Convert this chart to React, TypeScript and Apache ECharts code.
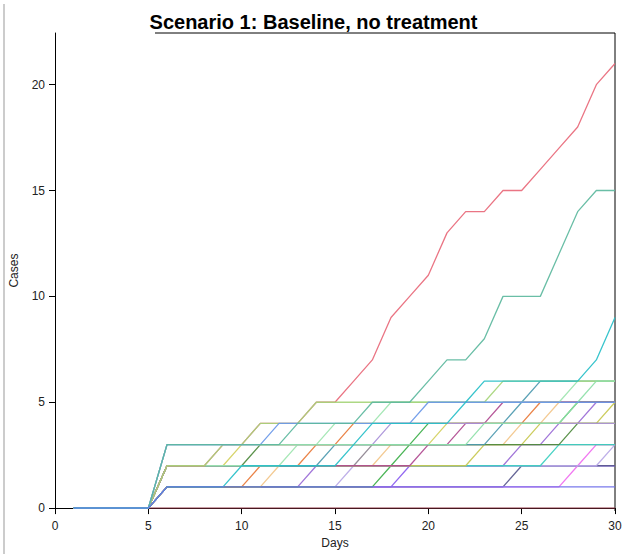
import React, { useEffect, useRef } from "react";
import * as echarts from "echarts";

const days = Array.from({ length: 30 }, (_, i) => i + 1);

const runDarkRed = [0,0,0,0,0,0,0,0,0,0,0,0,0,0,0,0,0,0,0,0,0,0,0,0,0,0,0,0,0,0];
const runViolet = [0,0,0,0,0,1,1,1,1,1,1,1,1,1,1,1,1,1,2,2,2,2,2,2,2,2,2,2,2,2];
const runSlate = [0,0,0,0,0,1,1,1,1,1,1,1,1,1,1,1,1,1,1,1,1,1,1,1,2,2,2,2,2,2];
const runPink = [0,0,0,0,0,1,1,1,1,1,1,1,1,1,1,1,1,1,1,1,1,1,1,1,1,1,1,2,3,3];
const runLavender = [0,0,0,0,0,1,1,1,1,1,1,1,1,1,1,2,2,2,2,2,2,2,2,2,2,2,2,2,2,3];
const runPurple = [0,0,0,0,0,1,1,1,1,1,1,1,1,2,2,2,2,2,2,2,2,2,2,2,3,3,4,4,5,5];
const runPeach = [0,0,0,0,0,1,1,1,1,1,1,2,2,2,2,2,2,3,3,3,3,3,3,3,4,4,5,5,5,5];
const runOrange = [0,0,0,0,0,1,1,1,1,1,2,2,2,3,3,4,4,4,4,4,4,4,4,4,4,5,5,5,5,5];
const runGreen = [0,0,0,0,0,1,1,1,1,1,1,1,1,1,1,1,1,2,3,4,4,4,4,4,4,4,4,5,5,5];
const runGray = [0,0,0,0,0,2,2,2,2,2,2,2,2,2,2,2,3,3,3,3,3,3,3,3,3,3,3,3,3,3];
const runCyan2 = [0,0,0,0,0,2,2,2,2,2,2,2,2,2,2,2,2,2,2,2,2,2,2,2,2,2,3,3,3,3];
const runOliveYellow = [0,0,0,0,0,2,2,2,2,2,2,2,2,2,2,2,2,2,2,2,2,2,3,3,3,4,4,4,4,5];
const runDarkGreen = [0,0,0,0,0,2,2,2,2,2,3,3,3,3,3,3,3,3,3,3,3,3,3,3,3,3,3,4,4,4];
const runKhaki = [0,0,0,0,0,2,2,2,2,3,3,3,3,3,3,3,3,3,3,3,4,4,4,4,4,4,4,4,4,4];
const runMagenta = [0,0,0,0,0,2,2,2,2,2,2,2,2,2,2,2,2,2,2,3,3,4,4,5,5,5,5,5,5,5];
const runSteelTeal = [0,0,0,0,0,2,2,2,2,2,2,2,2,2,3,3,3,3,3,3,3,3,3,4,5,6,6,6,6,6];
const runPaleGreen = [0,0,0,0,0,2,2,2,2,2,2,2,3,3,4,4,4,5,5,5,5,5,5,5,5,5,5,6,6,6];
const runRed = [0,0,0,0,0,2,2,2,3,3,4,4,4,5,5,6,7,9,10,11,13,14,14,15,15,16,17,18,20,21];
const runLightGreen = [0,0,0,0,0,2,2,2,3,3,4,4,4,5,5,5,5,5,5,5,5,5,5,6,6,6,6,6,6,6];
const runLavender2 = [0,0,0,0,0,3,3,3,3,3,3,3,3,3,3,3,3,4,4,4,4,4,4,4,4,4,4,4,4,4];
const runMint = [0,0,0,0,0,3,3,3,3,3,3,3,3,3,3,3,3,3,3,3,3,3,4,4,4,4,4,5,6,6];
const runBlue = [0,0,0,0,0,3,3,3,3,3,3,4,4,4,4,4,4,4,4,5,5,5,5,5,5,5,5,5,5,5];
const runTealGreen = [0,0,0,0,0,3,3,3,3,3,3,3,4,4,4,4,5,5,5,6,7,7,8,10,10,10,12,14,15,15];
const runCyan = [0,0,0,0,0,1,1,1,1,2,2,2,2,2,2,3,4,4,4,4,4,5,6,6,6,6,6,6,7,9];
const runBlue1 = [0,0,0,0,0,1,1,1,1,1,1,1,1,1,1,1,1,1,1,1,1,1,1,1,1,1,1,1,1,1];

const runs = [
  runDarkRed, runViolet, runSlate, runPink, runLavender, runPurple, runPeach,
  runOrange, runGreen, runGray, runCyan2, runOliveYellow, runDarkGreen, runKhaki,
  runMagenta, runSteelTeal, runPaleGreen, runRed, runLightGreen, runLavender2,
  runMint, runBlue, runTealGreen, runCyan, runBlue1,
];

const runColors = [
  "#8B2E3E", "#8A5CF0", "#5A5A8E", "#F06EF0", "#B9A8E6", "#9A6BD6", "#F2C58A",
  "#E8793A", "#3DAF4A", "#8E8490", "#3CCFC0", "#C8C850", "#4E8A3E", "#D4D060",
  "#B04A90", "#4E9AB0", "#9EE5B0", "#E8697A", "#A6D57A", "#A890D8",
  "#8EE0A8", "#6A98E8", "#5DB89E", "#27BFC8", "#6E6EEA",
];

const yTicks = [0, 5, 10, 15, 20];
const xTicks = [0, 5, 10, 15, 20, 25, 30];

export default function App() {
  const ref = useRef<HTMLDivElement>(null);
  useEffect(() => {
    if (!ref.current) return;
    const chart = echarts.init(ref.current, null, { renderer: "svg" });
    const font = "Liberation Sans, Arial, Helvetica, sans-serif";
    chart.setOption({
      animation: false,
      textStyle: { fontFamily: font },
      title: {
        text: "Scenario 1: Baseline, no treatment",
        left: "center",
        top: 7,
        textStyle: { fontSize: 20, fontWeight: "bold", color: "#000", fontFamily: font },
      },
      grid: { left: 55, right: 12, top: 33, bottom: 43, containLabel: false },
      xAxis: {
        type: "value",
        min: 0,
        max: 30,
        interval: 5,
        name: "Days",
        nameLocation: "middle",
        nameGap: 23,
        nameTextStyle: { fontSize: 12, color: "#222", fontFamily: font },
        splitLine: { show: false },
        axisLine: { show: true, onZero: false, lineStyle: { color: "#000", width: 1 } },
        axisTick: { show: true, length: 6, lineStyle: { color: "#000" }, customValues: xTicks },
        axisLabel: { fontSize: 12, color: "#222", margin: 12, customValues: xTicks },
      },
      yAxis: {
        type: "value",
        min: 0,
        max: 22.44,
        interval: 5,
        name: "Cases",
        nameLocation: "middle",
        nameGap: 35,
        nameTextStyle: { fontSize: 12, color: "#222", fontFamily: font },
        splitLine: { show: false },
        axisLine: { show: true, onZero: false, lineStyle: { color: "#000", width: 1 } },
        axisTick: { show: true, length: 6, lineStyle: { color: "#000" }, customValues: yTicks },
        axisLabel: {
          fontSize: 12,
          color: "#222",
          margin: 10,
          customValues: yTicks,
        },
      },
      graphic: [
        { type: "line", shape: { x1: 155, y1: 33, x2: 615, y2: 33 }, style: { stroke: "#000", lineWidth: 1 } },
        { type: "line", shape: { x1: 615, y1: 33, x2: 615, y2: 511 }, style: { stroke: "#000", lineWidth: 1 } },
        { type: "line", shape: { x1: 4, y1: 4, x2: 4, y2: 554 }, style: { stroke: "#aaa", lineWidth: 1.2 } },
      ],
      series: runs.map((r, i) => ({
        type: "line",
        data: days.map((d, j) => [d, r[j]]),
        showSymbol: false,
        symbol: "none",
        silent: true,
        lineStyle: { color: runColors[i], width: 1.3, opacity: 0.92 },
        itemStyle: { color: runColors[i] },
        z: 2,
      })),
    });
    return () => chart.dispose();
  }, []);
  return (
    <div
      ref={ref}
      style={{ position: "fixed", left: 0, top: 0, width: 627, height: 554, background: "#fff" }}
    />
  );
}
